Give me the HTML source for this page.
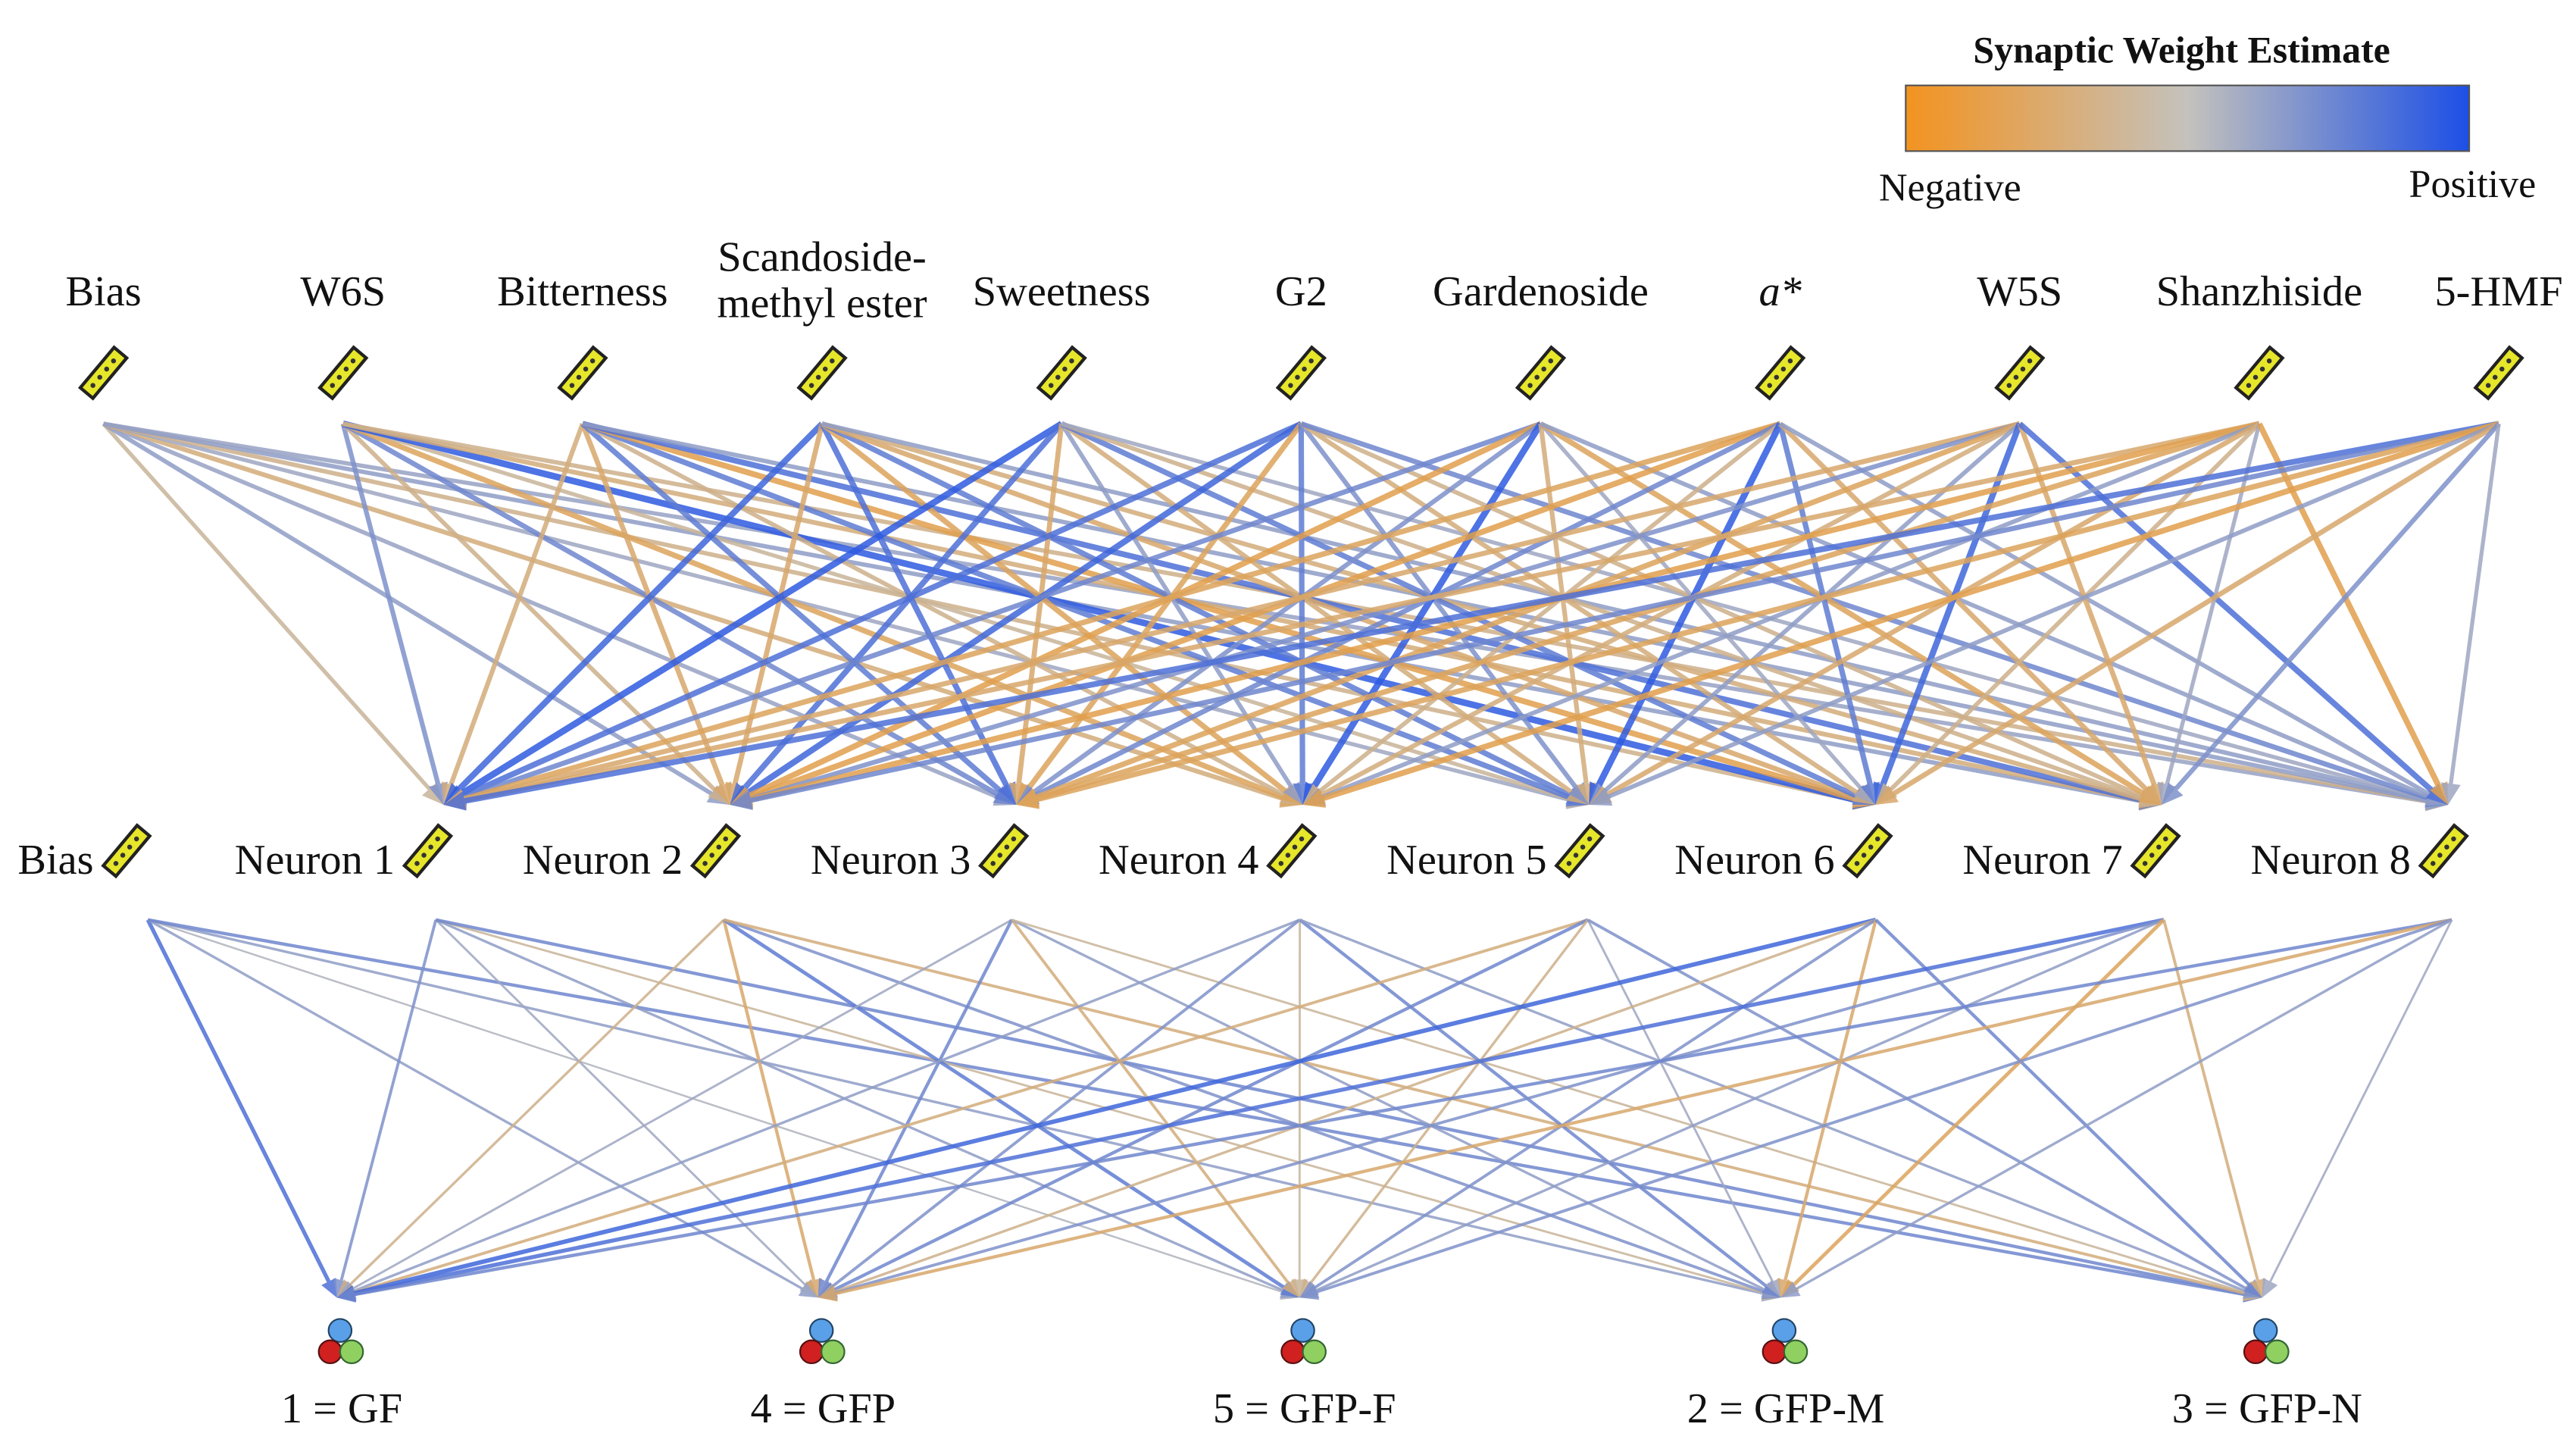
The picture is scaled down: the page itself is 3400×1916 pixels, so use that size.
<!DOCTYPE html>
<html><head><meta charset="utf-8"><style>
html,body{margin:0;padding:0;background:#fff}
svg{display:block}
text{font-family:"Liberation Serif",serif;fill:#111}
</style></head><body>
<svg id="chart" width="3400" height="1916" viewBox="0 0 1568 884" preserveAspectRatio="none" xmlns="http://www.w3.org/2000/svg" font-family="Liberation Serif, serif">
<defs>
<linearGradient id="lg" x1="0" x2="1" y1="0" y2="0">
<stop offset="0" stop-color="#f39320"/><stop offset="0.5" stop-color="#c4c2bc"/><stop offset="1" stop-color="#1c4fe6"/>
</linearGradient>
</defs>
<g>
<text x="1328" y="38" font-size="23" font-weight="bold" text-anchor="middle" font-family="Liberation Serif, serif">Synaptic Weight Estimate</text>
<rect x="1160" y="52" width="343" height="40" fill="url(#lg)" stroke="#555" stroke-width="1"/>
<text x="1187" y="122" font-size="24" text-anchor="middle" font-family="Liberation Serif, serif">Negative</text>
<text x="1505" y="120" font-size="24" text-anchor="middle" font-family="Liberation Serif, serif">Positive</text>
</g>
<g id="edges1"></g>
<g id="edges2"></g>
<g id="nodes"></g>
</svg>
<script>
const inputLabels = ["Bias","W6S","Bitterness","Scandoside-|methyl ester","Sweetness","G2","Gardenoside","a*","W5S","Shanzhiside","5-HMF"];
const hiddenLabels = ["Bias","Neuron 1","Neuron 2","Neuron 3","Neuron 4","Neuron 5","Neuron 6","Neuron 7","Neuron 8"];
const outputLabels = ["1 = GF","4 = GFP","5 = GFP-F","2 = GFP-M","3 = GFP-N"];
const w1Bias = [-0.2, 0.3, 0.25, -0.4, 0.2, -0.3, 0.3, 0.25];
const w1W6S = [0.4, -0.3, 0.5, -0.6, -0.2, 0.9, -0.4, -0.3];
const w1Bitter = [-0.4, -0.5, 0.6, -0.3, 0.6, -0.7, 0.7, 0.3];
const w1Scand = [0.8, -0.5, 0.7, -0.6, 0.6, -0.5, -0.4, 0.3];
const w1Sweet = [0.9, 0.7, -0.5, 0.3, -0.4, 0.6, -0.3, 0.2];
const w1G2 = [0.7, 0.8, -0.6, 0.6, 0.4, -0.4, -0.3, 0.5];
const w1Garden = [0.5, -0.7, 0.4, 0.9, -0.4, 0.2, -0.6, 0.3];
const w1Astar = [-0.6, -0.7, 0.5, -0.3, 0.9, 0.6, -0.5, 0.3];
const w1W5S = [-0.5, 0.4, -0.6, -0.4, 0.3, 0.8, -0.5, 0.7];
const w1Shan = [-0.5, -0.7, -0.6, 0.3, -0.5, -0.3, 0.2, -0.7];
const w1HMF = [0.7, 0.5, -0.6, -0.7, 0.3, -0.5, 0.4, 0.2];
const w1 = [w1Bias,w1W6S,w1Bitter,w1Scand,w1Sweet,w1G2,w1Garden,w1Astar,w1W5S,w1Shan,w1HMF];
const w2Bias = [0.7, 0.3, 0.1, 0.3, 0.5];
const w2N1 = [0.4, 0.2, 0.3, -0.2, 0.5];
const w2N2 = [-0.3, -0.5, 0.6, 0.4, -0.4];
const w2N3 = [0.2, 0.5, -0.4, 0.3, -0.2];
const w2N4 = [0.3, 0.4, -0.2, 0.5, 0.3];
const w2N5 = [-0.4, 0.5, -0.3, 0.2, 0.4];
const w2N6 = [0.8, -0.3, 0.4, -0.5, 0.5];
const w2N7 = [0.7, 0.4, 0.3, -0.6, -0.4];
const w2N8 = [0.5, -0.5, 0.4, 0.3, 0.2];
const w2 = [w2Bias,w2N1,w2N2,w2N3,w2N4,w2N5,w2N6,w2N7,w2N8];

const NS="http://www.w3.org/2000/svg";
function mk(t,a,p){const e=document.createElementNS(NS,t);for(const k in a)e.setAttribute(k,a[k]);p.appendChild(e);return e;}
function mix(a,b,t){return a.map((v,i)=>Math.round(v+(b[i]-v)*t));}
function col(w){const o=[240,146,30],g=[190,188,184],b=[30,80,228];const c=w<0?mix(g,o,Math.min(1,-w)):mix(g,b,Math.min(1,w));return `rgb(${c.join(',')})`;}
const inX=i=>63+i*145.8, inY=258;
const hidSrcX=j=>90+j*175.3, hidSrcY=560;
const hidTgtX=j=>270+j*174.3, hidTgtY=490;
const outX=k=>205+k*293, outY=790;
function edge(g,x1,y1,x2,y2,w,base,ah,aw){
  const c=col(w), sw=base+Math.abs(w)*2.2;
  const dx=x2-x1,dy=y2-y1,L=Math.hypot(dx,dy),ux=dx/L,uy=dy/L;
  const bx=x2-ux*ah,by=y2-uy*ah;
  const l=mk('line',{x1:x1,y1:y1,x2:bx,y2:by,stroke:c,'stroke-width':sw,'stroke-opacity':0.85},g);
  
  
  const p=mk('polygon',{points:`${x2},${y2} ${bx-uy*aw},${by+ux*aw} ${bx+uy*aw},${by-ux*aw}`,fill:c,'fill-opacity':0.85},g);
  
  
}
const e1=document.getElementById('edges1'), e2=document.getElementById('edges2'), nodes=document.getElementById('nodes');
w1.forEach((row,i)=>row.forEach((w,j)=>edge(e1,inX(i),inY,hidTgtX(j),hidTgtY,w,2.0,13,6)));
w2.forEach((row,j)=>row.forEach((w,k)=>edge(e2,hidSrcX(j),hidSrcY,outX(k),outY,w,0.9,11,5)));
function ruler(x,y){
  const g=mk('g',{transform:`translate(${x},${y}) rotate(-50)`},nodes);
  
  
  mk('rect',{x:-16,y:-5,width:32,height:10,fill:'#e6e62a',stroke:'#222','stroke-width':2},g);
  for(let t=-10;t<=10;t+=6.5)mk('circle',{cx:t,cy:0,r:1.5,fill:'#333'},g);
}
inputLabels.forEach((s,i)=>{
  const parts=s.split('|');
  const t=mk('text',{x:inX(i),y:parts.length>1?165:186,'font-size':26,'text-anchor':'middle','font-family':'Liberation Serif, serif'},nodes);
  
  
  if(s==='a*')t.setAttribute('font-style','italic');
  parts.forEach((p,k)=>{const ts=mk('tspan',{x:inX(i),dy:k?28:0},t);ts.textContent=p;});
  ruler(inX(i),227);
});
hiddenLabels.forEach((s,j)=>{
  const xr=hidSrcX(j)-5+(j===0?-8:0);
  const t=mk('text',{x:xr-20,y:532,'font-size':26,'text-anchor':'end','font-family':'Liberation Serif, serif'},nodes);
  t.textContent=s;
  
  
  ruler(xr,518);
});
outputLabels.forEach((s,k)=>{
  const x=outX(k),g=mk('g',{},nodes);
  
  
  mk('circle',{cx:x+2,cy:810,r:7,fill:'#5aa0e8',stroke:'#246',"stroke-width":1},g);
  mk('circle',{cx:x-4,cy:823,r:7,fill:'#d02020',stroke:'#511',"stroke-width":1},g);
  mk('circle',{cx:x+9,cy:823,r:7,fill:'#8fd060',stroke:'#363',"stroke-width":1},g);
  const t=mk('text',{x:x+3,y:866,'font-size':26,'text-anchor':'middle','font-family':'Liberation Serif, serif'},nodes);
  t.textContent=s;
  
  
});
</script>
</body></html>
